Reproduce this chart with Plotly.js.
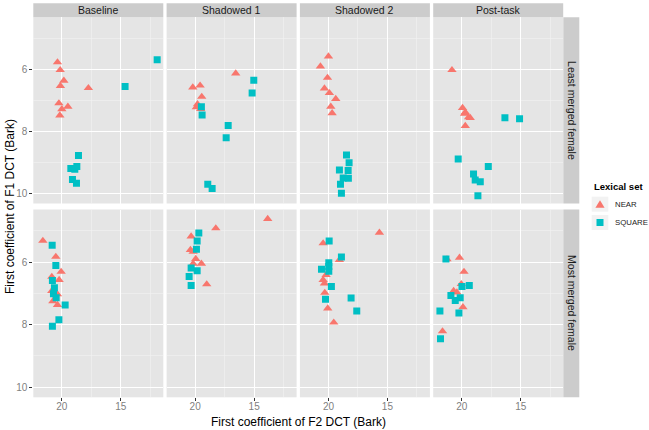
<!DOCTYPE html>
<html><head><meta charset="utf-8">
<script src="https://cdn.plot.ly/plotly-3.0.1.min.js"></script>
<style>html,body{margin:0;padding:0;background:#fff}</style>
</head><body><div id="chart" style="width:649px;height:430px"></div>
<script>
// ---- Data (F2 = x, F1 = y, in Bark) ----
const conditions = ['Baseline', 'Shadowed 1', 'Shadowed 2', 'Post-task'];
const speakers = ['Least merged female', 'Most merged female'];
const lexicalSets = ['NEAR', 'SQUARE'];
const xTickVals = [20, 15];
const yTickVals = [6, 8, 10];

// Least merged female
const baselineLeastNearF2 = [20.37, 20.14, 19.83, 20.12, 17.75, 20.25, 19.49, 20.0, 20.17];
const baselineLeastNearF1 = [5.77, 6.02, 6.36, 6.53, 6.60, 7.09, 7.20, 7.28, 7.48];
const baselineLeastSquareF2 = [11.92, 14.64, 18.59, 18.73, 19.24, 18.9, 19.1, 18.76];
const baselineLeastSquareF1 = [5.69, 6.55, 8.77, 9.13, 9.19, 9.22, 9.55, 9.67];

const shadowed1LeastNearF2 = [16.56, 20.2, 19.58, 19.44, 19.8, 19.9, 19.53];
const shadowed1LeastNearF1 = [6.13, 6.58, 6.52, 6.88, 7.12, 7.22, 7.27];
const shadowed1LeastSquareF2 = [15.03, 15.17, 19.47, 19.41, 17.2, 17.37, 18.93, 18.56];
const shadowed1LeastSquareF1 = [6.35, 6.76, 7.2, 7.47, 7.81, 8.2, 9.7, 9.84];

const shadowed2LeastNearF2 = [20.0, 20.68, 20.08, 20.34, 19.92, 19.38, 19.8, 19.69];
const shadowed2LeastNearF1 = [5.58, 5.90, 6.27, 6.61, 6.76, 6.95, 7.20, 7.41];
const shadowed2LeastSquareF2 = [18.47, 18.25, 19.07, 18.33, 18.75, 18.31, 18.98, 18.9];
const shadowed2LeastSquareF1 = [8.76, 9.01, 9.24, 9.26, 9.5, 9.51, 9.7, 9.99];

const postLeastNearF2 = [20.83, 19.93, 19.7, 19.76, 19.42, 19.28, 19.7];
const postLeastNearF1 = [6.02, 7.24, 7.38, 7.43, 7.54, 7.56, 7.82];
const postLeastSquareF2 = [16.34, 15.1, 20.3, 17.75, 19.0, 18.86, 18.43, 18.63];
const postLeastSquareF1 = [7.56, 7.59, 8.89, 9.13, 9.37, 9.56, 9.62, 10.07];

// Most merged female
const baselineMostNearF2 = [21.61, 20.51, 20.06, 20.85, 20.23, 20.85, 20.37, 20.76, 20.37];
const baselineMostNearF1 = [5.32, 5.83, 6.31, 6.47, 6.57, 6.92, 7.03, 7.25, 7.37];
const baselineMostSquareF2 = [20.82, 20.51, 20.8, 20.63, 20.71, 20.48, 19.72, 20.25, 20.8];
const baselineMostSquareF1 = [5.46, 6.11, 6.59, 6.82, 7.01, 7.14, 7.37, 7.84, 8.05];

const shadowed1MostNearF2 = [13.85, 18.25, 20.34, 20.4, 20.17, 19.95, 20.17, 19.47, 19.02];
const shadowed1MostNearF1 = [4.62, 4.92, 5.18, 5.61, 5.67, 5.90, 6.05, 6.05, 6.71];
const shadowed1MostSquareF2 = [19.69, 19.83, 19.89, 20.34, 19.83, 20.51, 20.34];
const shadowed1MostSquareF1 = [5.07, 5.33, 5.59, 6.19, 6.28, 6.46, 6.75];

const shadowed2MostNearF2 = [15.68, 20.45, 19.07, 20.2, 20.45, 20.34, 20.31, 20.06, 19.55];
const shadowed2MostNearF1 = [5.06, 5.40, 5.93, 6.41, 6.57, 6.68, 6.98, 7.48, 7.93];
const shadowed2MostSquareF2 = [19.94, 18.9, 19.97, 19.97, 20.59, 19.97, 19.75, 20.25, 18.08, 17.6];
const shadowed2MostSquareF1 = [5.33, 5.84, 6.02, 6.14, 6.23, 6.29, 6.78, 7.19, 7.15, 7.56];

const postMostNearF2 = [21.25, 20.19, 19.81, 20.04, 20.69, 20.41, 19.9, 21.63];
const postMostNearF1 = [5.91, 5.86, 6.31, 6.70, 6.92, 6.97, 7.44, 8.21];
const postMostSquareF2 = [21.34, 19.98, 19.36, 20.92, 20.13, 20.55, 21.85, 20.24, 21.8];
const postMostSquareF1 = [5.9, 6.78, 6.75, 7.07, 7.14, 7.23, 7.56, 7.63, 8.45];

const panelData = [
  [[baselineLeastNearF2, baselineLeastNearF1, baselineLeastSquareF2, baselineLeastSquareF1],
   [shadowed1LeastNearF2, shadowed1LeastNearF1, shadowed1LeastSquareF2, shadowed1LeastSquareF1],
   [shadowed2LeastNearF2, shadowed2LeastNearF1, shadowed2LeastSquareF2, shadowed2LeastSquareF1],
   [postLeastNearF2, postLeastNearF1, postLeastSquareF2, postLeastSquareF1]],
  [[baselineMostNearF2, baselineMostNearF1, baselineMostSquareF2, baselineMostSquareF1],
   [shadowed1MostNearF2, shadowed1MostNearF1, shadowed1MostSquareF2, shadowed1MostSquareF1],
   [shadowed2MostNearF2, shadowed2MostNearF1, shadowed2MostSquareF2, shadowed2MostSquareF1],
   [postMostNearF2, postMostNearF1, postMostSquareF2, postMostSquareF1]]
];

// ---- Layout geometry ----
const W = 649, H = 430;
const FONT = 'Liberation Sans, Arial, Helvetica, sans-serif';
const colLeft = [33.3, 166.6, 299.9, 433.2];
const colW = 130;
const rowTop = [17.3, 209.5];
const rowBot = [203.5, 397.3];
const NEARCOL = '#F8766D', SQCOL = '#00BFC4';

const px = v => v / W;
const py = v => 1 - v / H;

const data = [];
const layout = {
  width: W, height: H,
  margin: {l: 0, r: 0, t: 0, b: 0},
  paper_bgcolor: '#FFFFFF',
  plot_bgcolor: '#E5E5E5',
  font: {family: FONT, size: 10, color: '#1A1A1A'},
  showlegend: false,
  shapes: [], annotations: []
};

for (let r = 0; r < 2; r++) {
  for (let c = 0; c < 4; c++) {
    const i = r * 4 + c + 1;
    const xa = 'xaxis' + (i === 1 ? '' : i), ya = 'yaxis' + (i === 1 ? '' : i);
    const xr = 'x' + (i === 1 ? '' : i), yr = 'y' + (i === 1 ? '' : i);
    layout[xa] = {
      domain: [px(colLeft[c]), px(colLeft[c] + colW)],
      anchor: yr, range: [22.42, 11.40],
      tickmode: 'array', tickvals: xTickVals, ticktext: xTickVals.map(String),
      showgrid: true, gridcolor: '#FFFFFF', gridwidth: 1.1,
      minor: {tickmode: 'array', tickvals: [22.5, 17.5, 12.5], showgrid: true, gridcolor: '#F2F2F2', gridwidth: 0.6, ticks: ''},
      zeroline: false, showline: false,
      ticks: r === 1 ? 'outside' : '', ticklen: 3, tickwidth: 1, tickcolor: '#333333',
      showticklabels: r === 1, tickfont: {size: 10, color: '#7F7F7F'},
      ticklabelstandoff: -3,
      fixedrange: true
    };
    layout[ya] = {
      domain: [py(rowBot[r]), py(rowTop[r])],
      anchor: xr, range: [10.32, 4.32],
      tickmode: 'array', tickvals: yTickVals, ticktext: yTickVals.map(String),
      showgrid: true, gridcolor: '#FFFFFF', gridwidth: 1.1,
      minor: {tickmode: 'array', tickvals: [5, 7, 9], showgrid: true, gridcolor: '#F2F2F2', gridwidth: 0.6, ticks: ''},
      zeroline: false, showline: false,
      ticks: c === 0 ? 'outside' : '', ticklen: 3, tickwidth: 1, tickcolor: '#333333',
      showticklabels: c === 0, tickfont: {size: 10, color: '#7F7F7F'},
      fixedrange: true
    };
    const d = panelData[r][c];
    data.push({
      type: 'scatter', mode: 'markers', x: d[0], y: d[1], xaxis: xr, yaxis: yr,
      name: lexicalSets[0],
      marker: {symbol: 'triangle-up', size: 8.2, color: NEARCOL, line: {width: 0}},
      cliponaxis: true, hoverinfo: 'skip'
    });
    data.push({
      type: 'scatter', mode: 'markers', x: d[2], y: d[3], xaxis: xr, yaxis: yr,
      name: lexicalSets[1],
      marker: {symbol: 'square', size: 7, color: SQCOL, line: {width: 0}},
      cliponaxis: true, hoverinfo: 'skip'
    });
  }
}

// top strips
for (let c = 0; c < 4; c++) {
  layout.shapes.push({type: 'rect', xref: 'paper', yref: 'paper', layer: 'below',
    x0: px(colLeft[c]), x1: px(colLeft[c] + colW), y0: py(17.3), y1: py(3.3),
    fillcolor: '#CCCCCC', line: {width: 0}});
  layout.annotations.push({xref: 'paper', yref: 'paper', x: px(colLeft[c] + colW / 2), y: py(10.5),
    text: conditions[c], showarrow: false, xanchor: 'center', yanchor: 'middle',
    font: {size: 10.5, color: '#1A1A1A'}});
}
// right strips
for (let r = 0; r < 2; r++) {
  layout.shapes.push({type: 'rect', xref: 'paper', yref: 'paper', layer: 'below',
    x0: px(563.3), x1: px(579.3), y0: py(rowBot[r]), y1: py(rowTop[r]),
    fillcolor: '#CCCCCC', line: {width: 0}});
  layout.annotations.push({xref: 'paper', yref: 'paper', x: px(571.3), y: py((rowTop[r] + rowBot[r]) / 2),
    text: speakers[r], showarrow: false, xanchor: 'center', yanchor: 'middle', textangle: 90,
    font: {size: 10.5, color: '#1A1A1A'}});
}

// ---- Legend (keys drawn as shapes, labels as annotations) ----
const keyX0 = 591.7, keyX1 = 608.3, keyCx = (keyX0 + keyX1) / 2;
const keyRows = [[196.7, 211.7], [215.0, 230.0]];
keyRows.forEach(k => layout.shapes.push({type: 'rect', xref: 'paper', yref: 'paper', layer: 'below',
  x0: px(keyX0), x1: px(keyX1), y0: py(k[1]), y1: py(k[0]), fillcolor: '#F2F2F2', line: {width: 0}}));
// triangle key
const tcy = (keyRows[0][0] + keyRows[0][1]) / 2 + 1, tr = 5;
layout.shapes.push({type: 'path', xref: 'paper', yref: 'paper', layer: 'above',
  path: `M ${px(keyCx - tr * 0.866 * 1.06)} ${py(tcy + tr / 2)} L ${px(keyCx + tr * 0.866 * 1.06)} ${py(tcy + tr / 2)} L ${px(keyCx)} ${py(tcy - tr)} Z`,
  fillcolor: NEARCOL, line: {width: 0}});
// square key
const scy = (keyRows[1][0] + keyRows[1][1]) / 2;
layout.shapes.push({type: 'rect', xref: 'paper', yref: 'paper', layer: 'above',
  x0: px(keyCx - 3.5), x1: px(keyCx + 3.5), y0: py(scy + 3.5), y1: py(scy - 3.5),
  fillcolor: SQCOL, line: {width: 0}});
layout.annotations.push({xref: 'paper', yref: 'paper', x: px(591.5), y: py(186.7),
  text: '<b>Lexical set</b>', showarrow: false, xanchor: 'left', yanchor: 'middle',
  font: {size: 9.5, color: '#000'}});
lexicalSets.forEach((s, j) => layout.annotations.push({xref: 'paper', yref: 'paper', x: px(612.5),
  y: py((keyRows[j][0] + keyRows[j][1]) / 2), text: s, showarrow: false, xanchor: 'left', yanchor: 'middle',
  font: {size: 7.8, color: '#1A1A1A'}}));

// axis titles
layout.annotations.push({xref: 'paper', yref: 'paper', x: px(298.3), y: py(421.5),
  text: 'First coefficient of F2 DCT (Bark)', showarrow: false, xanchor: 'center', yanchor: 'middle',
  font: {size: 12, color: '#000'}});
layout.annotations.push({xref: 'paper', yref: 'paper', x: px(10), y: py(207),
  text: 'First coefficient of F1 DCT (Bark)', showarrow: false, xanchor: 'center', yanchor: 'middle',
  textangle: -90, font: {size: 12, color: '#000'}});

Plotly.newPlot('chart', data, layout, {staticPlot: true, displayModeBar: false});
</script>
</body></html>
